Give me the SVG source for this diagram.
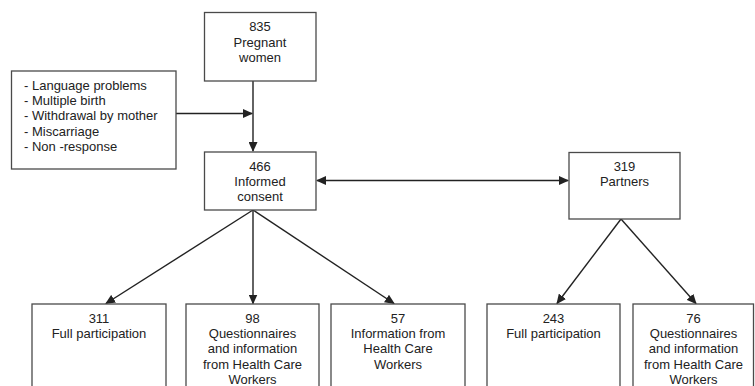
<svg xmlns="http://www.w3.org/2000/svg" width="755" height="386" viewBox="0 0 755 386">
<style>
.box{fill:#fff;stroke:#4a4a4a;stroke-width:1.3}
text{font-family:"Liberation Sans",Arial,sans-serif;font-size:13px;fill:#222}
.c{text-anchor:middle}
.ln{stroke:#222;stroke-width:1.4;fill:none}
</style>
<defs>
<marker id="ah" markerUnits="userSpaceOnUse" markerWidth="10" markerHeight="9" refX="9" refY="4.5" orient="auto-start-reverse">
<path d="M0,0 L10,4.5 L0,9 z" fill="#222"/>
</marker>
</defs>
<rect width="755" height="386" fill="#fff"/>
<g id="connectors">
<line class="ln" x1="253" y1="81" x2="253" y2="151" marker-end="url(#ah)"/>
<line class="ln" x1="176" y1="113.5" x2="252" y2="113.5" marker-end="url(#ah)"/>
<line class="ln" x1="317" y1="180.5" x2="568" y2="180.5" marker-start="url(#ah)" marker-end="url(#ah)"/>
<line class="ln" x1="253" y1="210" x2="106" y2="303.5" marker-end="url(#ah)"/>
<line class="ln" x1="253" y1="210" x2="253" y2="303.5" marker-end="url(#ah)"/>
<line class="ln" x1="253" y1="210" x2="394" y2="303.5" marker-end="url(#ah)"/>
<line class="ln" x1="621" y1="219" x2="557" y2="303.5" marker-end="url(#ah)"/>
<line class="ln" x1="621" y1="219" x2="696" y2="303.5" marker-end="url(#ah)"/>
</g>
<g id="pregnant">
<rect class="box" x="204.5" y="12.5" width="111.5" height="68.5"/>
<text class="c" x="260" y="31">835</text>
<text class="c" x="260" y="46.5">Pregnant</text>
<text class="c" x="260" y="62">women</text>
</g>
<g id="exclusions">
<rect class="box" x="11.5" y="71" width="164.5" height="98"/>
<text x="24" y="90">- Language problems</text>
<text x="24" y="105">- Multiple birth</text>
<text x="24" y="120">- Withdrawal by mother</text>
<text x="24" y="135.5">- Miscarriage</text>
<text x="24" y="150.5">- Non -response</text>
</g>
<g id="consent">
<rect class="box" x="204.5" y="152" width="111.5" height="58"/>
<text class="c" x="260" y="171">466</text>
<text class="c" x="260" y="186">Informed</text>
<text class="c" x="260" y="201">consent</text>
</g>
<g id="partners">
<rect class="box" x="569" y="152.5" width="111" height="66.5"/>
<text class="c" x="624.5" y="170.5">319</text>
<text class="c" x="624.5" y="186">Partners</text>
</g>
<g id="full1">
<rect class="box" x="32" y="304" width="134" height="90"/>
<text class="c" x="99" y="322.5">311</text>
<text class="c" x="99" y="338">Full participation</text>
</g>
<g id="quest1">
<rect class="box" x="186" y="304" width="133" height="90"/>
<text class="c" x="252.5" y="322.5">98</text>
<text class="c" x="252.5" y="338">Questionnaires</text>
<text class="c" x="252.5" y="353">and information</text>
<text class="c" x="252.5" y="368.5">from Health Care</text>
<text class="c" x="252.5" y="383.5">Workers</text>
</g>
<g id="info1">
<rect class="box" x="331" y="304" width="134" height="90"/>
<text class="c" x="398" y="322.5">57</text>
<text class="c" x="398" y="338">Information from</text>
<text class="c" x="398" y="353">Health Care</text>
<text class="c" x="398" y="368.5">Workers</text>
</g>
<g id="full2">
<rect class="box" x="487" y="304" width="133" height="90"/>
<text class="c" x="553.5" y="322.5">243</text>
<text class="c" x="553.5" y="338">Full participation</text>
</g>
<g id="quest2">
<rect class="box" x="633" y="304" width="120.5" height="90"/>
<text class="c" x="693.5" y="322.5">76</text>
<text class="c" x="693.5" y="338">Questionnaires</text>
<text class="c" x="693.5" y="353">and information</text>
<text class="c" x="693.5" y="368.5">from Health Care</text>
<text class="c" x="693.5" y="383.5">Workers</text>
</g>
</svg>
